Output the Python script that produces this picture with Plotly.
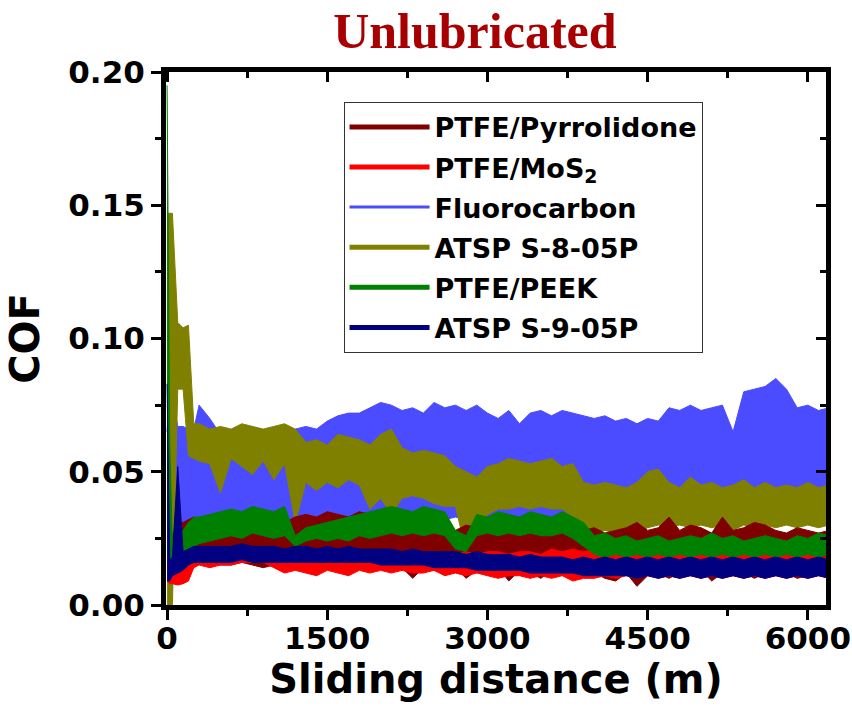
import plotly.graph_objects as go

# Sliding distance sampling positions (m)
X = [0, 25, 50, 100, 150, 200, 250, 300, 400, 500,
     600, 700, 800, 900, 1000, 1100, 1200, 1300, 1400, 1500,
     1600, 1700, 1800, 1900, 2000, 2100, 2200, 2300, 2400, 2500,
     2600, 2700, 2800, 2900, 3000, 3100, 3200, 3300, 3400, 3500,
     3600, 3700, 3800, 3900, 4000, 4100, 4200, 4300, 4400, 4500,
     4600, 4700, 4800, 4900, 5000, 5100, 5200, 5300, 5400, 5500,
     5600, 5700, 5800, 5900, 6000, 6100, 6200]

# Upper / lower edges of each noisy COF trace
FLUORO_HI = [0.065, 0.079, 0.079, 0.067, 0.067, 0.066, 0.066, 0.075, 0.070, 0.064,
             0.064, 0.065, 0.064, 0.065, 0.064, 0.065, 0.066, 0.067, 0.066, 0.069,
             0.071, 0.072, 0.072, 0.074, 0.076, 0.075, 0.073, 0.074, 0.072, 0.076,
             0.074, 0.075, 0.073, 0.075, 0.072, 0.070, 0.073, 0.068, 0.072, 0.073,
             0.071, 0.073, 0.072, 0.071, 0.070, 0.071, 0.069, 0.070, 0.068, 0.070,
             0.069, 0.074, 0.073, 0.075, 0.073, 0.074, 0.075, 0.065, 0.080, 0.081,
             0.082, 0.085, 0.081, 0.074, 0.075, 0.073, 0.074]
FLUORO_LO = [0.025, 0.025, 0.028, 0.030, 0.030, 0.030, 0.030, 0.030, 0.031, 0.030,
             0.031, 0.032, 0.031, 0.032, 0.031, 0.032, 0.032, 0.033, 0.032, 0.033,
             0.032, 0.033, 0.032, 0.033, 0.034, 0.033, 0.034, 0.033, 0.032, 0.033,
             0.032, 0.033, 0.032, 0.033, 0.032, 0.033, 0.032, 0.033, 0.032, 0.033,
             0.032, 0.033, 0.032, 0.033, 0.032, 0.033, 0.032, 0.033, 0.032, 0.033,
             0.033, 0.032, 0.033, 0.032, 0.033, 0.032, 0.033, 0.032, 0.033, 0.034,
             0.033, 0.034, 0.033, 0.034, 0.033, 0.034, 0.033]

ATSP8_HI = [0.147, 0.147, 0.147, 0.106, 0.104, 0.105, 0.068, 0.068, 0.066, 0.067,
            0.066, 0.068, 0.067, 0.066, 0.067, 0.068, 0.066, 0.061, 0.062, 0.060,
            0.064, 0.063, 0.062, 0.060, 0.064, 0.066, 0.059, 0.057, 0.058, 0.057,
            0.056, 0.052, 0.050, 0.048, 0.052, 0.053, 0.055, 0.054, 0.053, 0.054,
            0.055, 0.052, 0.053, 0.046, 0.045, 0.046, 0.045, 0.044, 0.046, 0.050,
            0.051, 0.046, 0.044, 0.048, 0.045, 0.046, 0.044, 0.045, 0.047, 0.044,
            0.046, 0.044, 0.045, 0.044, 0.046, 0.044, 0.045]
ATSP8_LO = [0.000, 0.000, 0.000, 0.081, 0.081, 0.056, 0.055, 0.054, 0.053, 0.042,
            0.055, 0.052, 0.049, 0.054, 0.047, 0.053, 0.031, 0.046, 0.043, 0.046,
            0.044, 0.047, 0.045, 0.036, 0.040, 0.034, 0.040, 0.041, 0.040, 0.038,
            0.037, 0.037, 0.020, 0.024, 0.034, 0.036, 0.036, 0.037, 0.036, 0.037,
            0.036, 0.036, 0.033, 0.029, 0.027, 0.028, 0.027, 0.028, 0.027, 0.029,
            0.030, 0.029, 0.030, 0.029, 0.030, 0.029, 0.030, 0.028, 0.030, 0.029,
            0.030, 0.029, 0.030, 0.029, 0.030, 0.029, 0.030]

PYRR_HI = [0.025, 0.025, 0.026, 0.031, 0.031, 0.032, 0.033, 0.031, 0.030, 0.031,
           0.029, 0.030, 0.031, 0.029, 0.030, 0.031, 0.033, 0.034, 0.033, 0.035,
           0.034, 0.033, 0.035, 0.034, 0.031, 0.030, 0.029, 0.030, 0.029, 0.031,
           0.029, 0.028, 0.030, 0.029, 0.030, 0.029, 0.031, 0.030, 0.029, 0.030,
           0.031, 0.029, 0.030, 0.028, 0.029, 0.027, 0.028, 0.029, 0.031, 0.028,
           0.029, 0.033, 0.028, 0.030, 0.029, 0.027, 0.033, 0.028, 0.029, 0.031,
           0.030, 0.028, 0.027, 0.029, 0.028, 0.027, 0.028]
PYRR_LO = [0.012, 0.012, 0.014, 0.020, 0.021, 0.021, 0.018, 0.016, 0.016, 0.015,
           0.015, 0.016, 0.015, 0.014, 0.015, 0.016, 0.015, 0.014, 0.015, 0.016,
           0.015, 0.014, 0.015, 0.016, 0.015, 0.013, 0.014, 0.010, 0.014, 0.013,
           0.012, 0.014, 0.010, 0.013, 0.012, 0.014, 0.009, 0.013, 0.012, 0.010,
           0.013, 0.012, 0.011, 0.013, 0.012, 0.010, 0.009, 0.012, 0.007, 0.011,
           0.012, 0.010, 0.012, 0.011, 0.013, 0.009, 0.012, 0.011, 0.012, 0.010,
           0.012, 0.011, 0.012, 0.010, 0.011, 0.012, 0.011]

MOS2_HI = [0.013, 0.013, 0.013, 0.013, 0.014, 0.016, 0.018, 0.019, 0.019, 0.020,
           0.020, 0.019, 0.020, 0.019, 0.019, 0.020, 0.019, 0.020, 0.019, 0.020,
           0.019, 0.020, 0.019, 0.020, 0.020, 0.019, 0.020, 0.019, 0.020, 0.019,
           0.020, 0.019, 0.020, 0.019, 0.020, 0.020, 0.019, 0.020, 0.020, 0.019,
           0.021, 0.020, 0.021, 0.020, 0.021, 0.020, 0.019, 0.018, 0.019, 0.018,
           0.019, 0.018, 0.019, 0.018, 0.019, 0.018, 0.019, 0.018, 0.019, 0.018,
           0.019, 0.018, 0.019, 0.018, 0.019, 0.018, 0.018]
MOS2_LO = [0.009, 0.008, 0.008, 0.0075, 0.008, 0.009, 0.014, 0.015, 0.014, 0.015,
           0.015, 0.016, 0.016, 0.016, 0.014, 0.012, 0.013, 0.012, 0.011, 0.013,
           0.012, 0.011, 0.013, 0.012, 0.013, 0.012, 0.013, 0.012, 0.012, 0.013,
           0.011, 0.012, 0.011, 0.012, 0.011, 0.010, 0.011, 0.011, 0.010, 0.011,
           0.010, 0.011, 0.009, 0.010, 0.010, 0.011, 0.010, 0.011, 0.010, 0.011,
           0.010, 0.011, 0.010, 0.011, 0.010, 0.011, 0.010, 0.011, 0.010, 0.011,
           0.010, 0.011, 0.010, 0.011, 0.010, 0.011, 0.010]

PEEK_HI = [0.195, 0.060, 0.023, 0.025, 0.028, 0.031, 0.033, 0.033, 0.034, 0.035,
           0.036, 0.035, 0.037, 0.036, 0.035, 0.037, 0.026, 0.029, 0.030, 0.031,
           0.032, 0.033, 0.034, 0.035, 0.036, 0.037, 0.036, 0.035, 0.037, 0.036,
           0.035, 0.028, 0.026, 0.034, 0.033, 0.035, 0.034, 0.033, 0.035, 0.034,
           0.033, 0.035, 0.033, 0.031, 0.026, 0.027, 0.025, 0.026, 0.024, 0.025,
           0.026, 0.024, 0.025, 0.026, 0.025, 0.027, 0.025, 0.026, 0.024, 0.025,
           0.026, 0.025, 0.024, 0.026, 0.025, 0.027, 0.026]
PEEK_LO = [0.017, 0.017, 0.016, 0.017, 0.019, 0.021, 0.022, 0.023, 0.024, 0.025,
           0.026, 0.025, 0.027, 0.026, 0.025, 0.026, 0.022, 0.024, 0.025, 0.024,
           0.025, 0.024, 0.026, 0.025, 0.026, 0.027, 0.026, 0.027, 0.026, 0.027,
           0.026, 0.021, 0.020, 0.026, 0.027, 0.026, 0.027, 0.026, 0.027, 0.026,
           0.026, 0.027, 0.025, 0.022, 0.019, 0.018, 0.019, 0.018, 0.019, 0.018,
           0.019, 0.018, 0.019, 0.018, 0.019, 0.018, 0.019, 0.018, 0.019, 0.018,
           0.019, 0.018, 0.019, 0.018, 0.019, 0.018, 0.019]

ATSP9_HI = [0.083, 0.017, 0.018, 0.052, 0.020, 0.021, 0.022, 0.022, 0.022, 0.022,
            0.022, 0.023, 0.022, 0.022, 0.022, 0.021, 0.022, 0.022, 0.021, 0.022,
            0.021, 0.022, 0.021, 0.021, 0.021, 0.021, 0.020, 0.021, 0.020, 0.020,
            0.020, 0.020, 0.019, 0.020, 0.019, 0.019, 0.019, 0.018, 0.019, 0.018,
            0.018, 0.018, 0.017, 0.018, 0.017, 0.018, 0.017, 0.018, 0.017, 0.018,
            0.017, 0.018, 0.017, 0.018, 0.017, 0.018, 0.017, 0.018, 0.017, 0.018,
            0.017, 0.018, 0.017, 0.018, 0.017, 0.018, 0.017]
ATSP9_LO = [0.009, 0.009, 0.011, 0.012, 0.013, 0.015, 0.016, 0.016, 0.016, 0.016,
            0.016, 0.017, 0.016, 0.016, 0.016, 0.016, 0.016, 0.016, 0.016, 0.016,
            0.016, 0.016, 0.016, 0.016, 0.015, 0.015, 0.015, 0.015, 0.015, 0.014,
            0.014, 0.014, 0.014, 0.013, 0.013, 0.013, 0.013, 0.013, 0.012, 0.012,
            0.012, 0.012, 0.012, 0.011, 0.011, 0.011, 0.011, 0.011, 0.010, 0.011,
            0.010, 0.011, 0.010, 0.011, 0.010, 0.011, 0.010, 0.011, 0.010, 0.011,
            0.010, 0.011, 0.010, 0.011, 0.010, 0.011, 0.010]

NAMES = ["PTFE/Pyrrolidone", "PTFE/MoS<sub>2</sub>", "Fluorocarbon",
         "ATSP S-8-05P", "PTFE/PEEK", "ATSP S-9-05P"]
COLORS = ["#800000", "#FF0000", "#4B4BFF", "#808000", "#008000", "#000080"]
BANDS = [[PYRR_LO, PYRR_HI], [MOS2_LO, MOS2_HI], [FLUORO_LO, FLUORO_HI],
         [ATSP8_LO, ATSP8_HI], [PEEK_LO, PEEK_HI], [ATSP9_LO, ATSP9_HI]]
DRAW_ORDER = [2, 3, 0, 1, 4, 5]   # back to front

FONT = "DejaVu Sans"

fig = go.Figure()
for i in DRAW_ORDER:
    lo, hi = BANDS[i]
    c = COLORS[i]
    fig.add_trace(go.Scatter(x=X, y=lo, mode="lines", line=dict(color=c, width=1),
                             showlegend=False, hoverinfo="skip"))
    fig.add_trace(go.Scatter(x=X, y=hi, mode="lines", line=dict(color=c, width=1),
                             fill="tonexty", fillcolor=c, showlegend=False, hoverinfo="skip"))

# legend entries
for i, name in enumerate(NAMES):
    fig.add_trace(go.Scatter(x=[None], y=[None], mode="lines", name=name, legendgroup=f"g{i}",
                             line=dict(color=COLORS[i], width=3 if i == 2 else 5)))

# overlay axes for the inward-ticked top/right frame
fig.add_trace(go.Scatter(x=[], y=[], xaxis="x2", yaxis="y2", showlegend=False, hoverinfo="skip"))

tickfont = dict(family=FONT, size=31, color="black", weight="bold")
XR = [-10, 6170]
YR = [0, 0.2]

fig.update_layout(
    width=852, height=722,
    margin=dict(l=166, r=26, t=72, b=117, autoexpand=False),
    paper_bgcolor="white", plot_bgcolor="white",
    title=dict(text="Unlubricated", x=0.468, xref="paper", xanchor="center",
               y=1 - 30 / 722, yref="container", yanchor="middle",
               font=dict(family="Liberation Serif", size=50, color="#A80000", weight="bold")),
    xaxis=dict(range=XR, tick0=0, dtick=1500, ticks="outside", ticklen=10, tickwidth=3,
               tickcolor="black", showline=True, linewidth=5, linecolor="black",
               showgrid=False, zeroline=False, tickfont=tickfont, ticklabeloverflow="allow",
               ticklabelstandoff=-8, automargin=False,
               minor=dict(ticks="outside", ticklen=6, tickwidth=3, tickcolor="black", dtick=750),
               title=dict(text="Sliding distance (m)", standoff=4,
                          font=dict(family=FONT, size=40, color="black", weight="bold"))),
    yaxis=dict(range=YR, tick0=0, dtick=0.05, tickformat=".2f", ticks="outside", ticklen=10,
               tickwidth=3, tickcolor="black", showline=True, linewidth=5, linecolor="black",
               showgrid=False, zeroline=False, tickfont=tickfont, automargin=False,
               minor=dict(ticks="outside", ticklen=6, tickwidth=3, tickcolor="black", dtick=0.025),
               title=dict(text="COF", standoff=18,
                          font=dict(family=FONT, size=40, color="black", weight="bold"))),
    xaxis2=dict(range=XR, overlaying="x", side="top", anchor="y", tick0=0, dtick=1500,
                ticks="inside", ticklen=10, tickwidth=3, tickcolor="black", showticklabels=False,
                showline=True, linewidth=5, linecolor="black", showgrid=False, zeroline=False,
                automargin=False,
                minor=dict(ticks="inside", ticklen=6, tickwidth=3, tickcolor="black", dtick=750)),
    yaxis2=dict(range=YR, overlaying="y", side="right", anchor="x", tick0=0, dtick=0.05,
                ticks="inside", ticklen=10, tickwidth=3, tickcolor="black", showticklabels=False,
                showline=True, linewidth=5, linecolor="black", showgrid=False, zeroline=False,
                automargin=False,
                minor=dict(ticks="inside", ticklen=6, tickwidth=3, tickcolor="black", dtick=0.025)),
    legend=dict(x=0.269, y=0.944, xanchor="left", yanchor="top", bgcolor="white",
                bordercolor="#333333", borderwidth=1, itemwidth=80, traceorder="grouped",
                font=dict(family=FONT, size=27, color="black", weight="bold"),
                tracegroupgap=2),
    showlegend=True,
)

fig.write_html("out.html")
